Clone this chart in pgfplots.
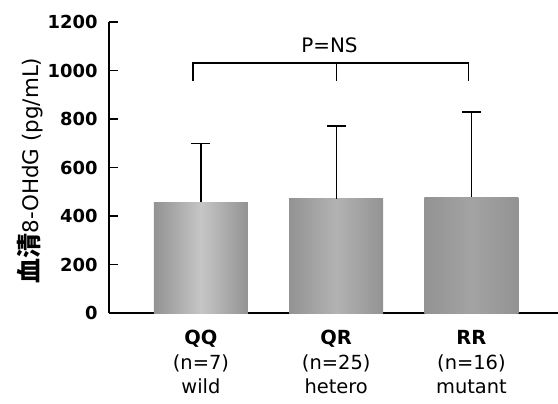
\documentclass[border=0pt]{standalone}
\usepackage{fontspec}
\setmainfont{DejaVu Sans}
\newfontfamily\cjk{Noto Sans CJK JP}
\usepackage{pgfplots}
\pgfplotsset{compat=1.18}

\begin{document}
\begin{tikzpicture}
\useasboundingbox (-109bp,-91bp) rectangle (449bp,291bp+22bp);
\begin{axis}[scale only axis,width=449bp,height=291bp,
 at={(0,0)},anchor=south west,
 xmin=-0.68,xmax=2.64,ymin=0,ymax=1200,
 axis x line*=bottom,axis y line*=left,axis line style={line width=1.4pt,-},
 ytick={0,200,...,1200},tick align=inside,major tick length=9bp,
 tick style={line width=1.2pt,black},
 xtick={0,1,2},xtick style={draw=none},
 xticklabels={{\textbf{QQ}\\(n=7)\\wild},{\textbf{QR}\\(n=25)\\hetero},{\textbf{RR}\\(n=16)\\mutant}},
 xticklabel style={align=center,font=\fontsize{19.5}{24.5}\selectfont,yshift=-5bp},
 yticklabel style={font=\fontsize{18}{20}\selectfont\bfseries,xshift=-8bp},
 /pgf/number format/assume math mode=true,
 /pgf/number format/1000 sep={},
 ylabel={{\cjk\bfseries\fontsize{25}{25}\selectfont 血清}8-OHdG (pg/mL)},
 ylabel style={font=\fontsize{21.5}{23}\selectfont,yshift=-2bp,xshift=-3bp},
 ybar,bar width=94bp,bar shift=0pt,
 error bars/y dir=plus,error bars/y explicit,
 error bars/error bar style={line width=1.4pt,black},
 error bars/error mark options={rotate=90,mark size=9.5bp,line width=1.4pt,black},
 clip=false]
\addplot[draw=none,left color=gray!85,right color=gray!85,middle color=gray!45]
 coordinates {(0,456) +- (0,244)};
\addplot[draw=none,left color=gray!85,right color=gray!85,middle color=gray!60]
 coordinates {(1,471) +- (0,300)};
\addplot[draw=none,left color=gray!85,right color=gray!85,middle color=gray!72]
 coordinates {(2,478) +- (0,351)};
\draw[line width=1.4pt] (axis cs:-0.06,957) -- (axis cs:-0.06,1031) -- (axis cs:1.98,1031) -- (axis cs:1.98,957);
\draw[line width=1.4pt] (axis cs:1.0,1031) -- (axis cs:1.0,957);
\node[font=\fontsize{20}{20}\selectfont] at (axis cs:0.95,1105) {P=NS};
\end{axis}
\end{tikzpicture}
\end{document}
